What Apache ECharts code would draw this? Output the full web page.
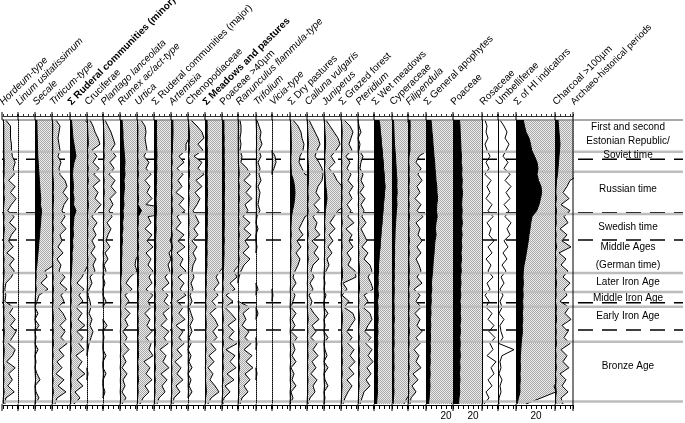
<!DOCTYPE html>
<html>
<head>
<meta charset="utf-8">
<script src="https://cdn.jsdelivr.net/npm/echarts@6.0.0/dist/echarts.min.js"></script>
<style>
html,body{margin:0;padding:0;background:#fff;}
#chart{width:685px;height:423px;}
</style>
</head>
<body>
<div id="chart"></div>
<script>
// ---------------- DATA (percent values, top = youngest sample) ----------------
const hordeum = [0.3,0.8,0.8,0.8,0.9, 0.9,1.0,1.3,1.1,1.2, 0.6,1.3,0.8,1.4,0.9, 0.5,1.2,0.7,1.4,0.9, 0.6,1.1,0.4,1.2,0.7, 1.2,0.9,0.3,0.2,0.3, 0.2,1.1,0.7,1.3,0.8, 1.4,1.0,0.6,1.3,1.0, 0.4,1.3,0.6,1.0,0.5, 1.2,0.3,0.2];
const linum = [0,0,0,0,0, 0,0,0,0,0, 0,0,0,0,0, 0,0,0,0,0, 0,0,0,0,0, 0,0,0,0,0, 0,0,0,0,0, 0,0,0,0,0, 0,0,0,0,0, 0,0,0];
const secale = [1.8,2.0,2.1,2.3,2.4, 2.6,2.8,3.2,3.6,4.0, 4.4,4.8,5.2,5.8,5.4, 6.6,6.0,5.6,5.0,4.6, 4.0,3.5,3.0,2.4,1.9, 1.0,1.2,0.6,1.3,0.4, 0.2,0,0.3,0,0.4, 0,0.1,0,0.3,0, 0.1,0,0.2,0.5,0, 0.1,0.4,0];
const triticum = [0.4,0.8,0.7,0.6,0.7, 0.8,0.6,0.9,0.7,0.8, 1.3,1.5,1.1,1.6,1.2, 1.0,1.3,0.9,1.4,0.8, 1.0,0.6,1.1,0.5,0.9, 0.7,1.3,0.8,1.5,0.9, 1.2,0.6,1.1,1.4,0.8, 1.3,0.9,1.5,0.7,1.2, 0.5,1.0,0.4,1.2,0.6, 1.4,0.5,0.3];
const ruderalMinor = [1.5,2.0,2.5,3.0,4.0, 5.0,6.0,4.0,3.0,2.5, 3.0,3.5,3.0,4.0,3.5, 6.0,4.0,3.5,3.0,3.5, 2.5,3.0,2.0,2.2,1.8, 1.5,1.2,0.7,1.4,0.9, 1.3,0.6,1.2,0.8,1.5, 0.7,1.3,0.9,1.4,0.6, 1.2,0.8,1.5,0.7,1.3, 0.5,1.0,0.4];
const cruciferae = [0.3,0.6,0.8,1.1,1.3, 0.5,1.0,0.6,1.2,0.7, 1.3,0.6,1.1,0.8,1.4, 0.9,0.5,1.0,0.6,0.9, 0.5,0.8,0.4,0.9,0.6, 0.8,0.3,0.5,0.2,0.1, 0.3,0.4,0.2,0.5,0.3, 0.6,0.4,0.2,0.1,0, 0,0,0.1,0,0, 0,0,0];
const plantago = [0.2,0.5,0.8,1.0,1.2, 0.8,1.3,0.7,1.1,0.6, 1.2,0.8,1.3,0.7,1.0, 0.6,0.9,0.4,0.8,0.5, 0.3,0.7,0.2,0.5,0.1, 0.3,0,0.2,0,0, 0.3,0,0,0,0.4, 0,0.1,0,0,0.3, 0,0,0.3,0,0, 0.2,0,0];
const rumex = [2.0,2.5,3.0,3.0,3.5, 4.0,4.5,5.0,4.5,5.0, 4.0,4.5,4.0,3.5,4.0, 3.0,3.5,2.5,3.0,2.0, 2.5,1.8,2.0,1.6,1.5, 1.7,1.0,0.6,1.2,0.5, 0.9,0.4,1.0,0.5,0.8, 0.3,0.7,0.4,0.9,0.3, 0.6,0.2,0.7,0.3,0.5, 0.2,0.6,0.2];
const urtica = [0.4,0.8,0.9,0.8,0.9, 1.0,0.7,1.2,0.9,1.4, 0.8,1.3,1.0,1.5,0.9, 4.5,1.1,1.4,0.8,1.5, 1.0,1.6,0.9,1.4,1.1, 1.6,1.2,1.5,0.9,1.6, 1.1,1.4,0.8,1.3,1.0, 1.5,0.9,1.4,1.2,1.6, 0.7,1.3,0.9,1.5,0.8, 1.2,0.6,0.3];
const ruderalMajor = [2.5,2.6,2.4,2.7,2.5, 2.8,3.0,2.6,2.9,2.4, 2.7,2.2,2.5,2.0,2.3, 2.6,2.1,1.9,2.2,1.8, 1.6,1.9,1.5,1.7,1.4, 1.6,1.1,1.5,0.8,1.4, 1.0,1.6,0.9,1.3,0.7, 1.5,1.0,1.4,0.6,1.2, 0.9,1.5,0.7,1.3,0.8, 1.1,0.5,0.3];
const artemisia = [1.8,1.9,2.0,1.8,1.5, 1.5,0.8,1.3,0.6,1.2, 0.7,1.1,0.5,1.3,0.8, 1.4,0.6,1.0,0.5,1.3, 0.7,1.4,0.6,1.2,0.9, 1.5,0.7,1.3,0.9,1.5, 0.6,1.2,0.8,1.4,0.5, 1.2,0.8,1.3,0.6,1.1, 0.4,1.0,0.6,1.2,0.5, 0.9,0.3,0.2];
const chenopodiaceae = [0.3,0.9,1.4,1.6,1.0, 1.5,0.6,1.4,1.0,1.6, 0.8,1.4,0.7,1.2,0.9, 0.5,0.8,1.1,0.6,1.0, 0.4,0.9,0.5,0.8,0.5, 0.4,0.6,0.3,0.5,0.2, 0.4,0.1,0.3,0.5,0.2, 0.4,0.1,0.3,0,0.3, 0.1,0.4,0,0.3,0.1, 0.4,0,0];
const meadows = [2.0,2.2,2.1,2.3,2.0, 2.4,2.2,2.5,2.3,2.1, 2.4,2.2,2.6,2.3,2.1, 2.5,2.2,2.4,2.0,2.3, 2.1,1.9,2.2,1.8,2.0, 1.5,1.1,1.4,0.9,1.3, 0.7,1.2,0.5,1.0,1.3, 0.8,1.2,0.6,1.1,0.4, 0.9,0.3,0.8,0.5,1.0, 1.4,0.6,0.3];
const poaceae40 = [1.8,2.0,1.9,2.2,2.0, 2.3,2.1,2.4,2.2,2.5, 2.3,2.6,2.4,2.2,2.5, 2.3,2.1,2.4,2.2,2.0, 2.3,1.9,2.1,1.8,1.7, 1.2,1.5,0.8,1.3,0.4, 1.1,0.3,0.9,1.4,0.6, 1.2,0.7,1.5,0.4,1.3, 0.8,1.4,0.5,1.2,0.3, 0.8,0.2,0.1];
const ranunculus = [0.2,0.3,0.3,0.2,0.3, 0.2,0.4,0.3,0.9,1.2, 0.6,1.3,0.8,1.4,0.7, 1.0,0.5,1.2,0.6,1.3, 0.7,1.1,0.5,1.2,0.6, 0.3,0.1,0,0,0, 0,1.2,0.5,0.8,0.4, 1.1,0.7,1.3,0.6,1.4, 0.8,1.5,0.7,1.2,0.6, 1.0,0.4,0.2];
const trifolium = [0.1,0.3,0.5,0.4,0.6, 0.3,0.5,0.2,0.4,0.3, 0.5,0.2,0.4,0.3,0.2, 0.4,0.1,0,0.2,0, 0,0.1,0,0,0, 0,0,0,0.2,0, 0,0,0.2,0,0, 0,0,0.1,0,0, 0,0,0.1,0,0, 0,0,0];
const vicia = [0,0,0,0,0, 0,0.3,0.4,0.2,0, 0,0,0,0,0, 0,0,0,0,0, 0,0,0,0,0, 0,0,0,0,0.1, 0,0,0,0,0, 0,0,0,0,0, 0,0,0,0,0, 0,0,0];
const dryPastures = [0.3,0.8,1.1,1.2,1.4, 1.3,1.0,0.9,1.2,1.5, 3.5,4.5,5.0,4.6,3.8, 2.5,1.5,1.2,0.9,1.3, 0.7,1.1,0.6,1.0,0.8, 0.5,0.3,0.6,0.2,0.5, 0.3,0.1,0.6,0.2,0.5, 0.1,0.7,0.3,0.5,0.2, 0.6,0.1,0.4,0.2,0.6, 0.1,0.3,0];
const calluna = [0.2,0.5,0.8,1.1,1.3, 1.0,0.8,1.2,1.5,1.6, 1.5,1.1,0.9,1.3,0.7, 1.2,0.6,1.0,0.8,1.3, 0.5,1.1,0.7,1.2,0.6, 0.4,0.7,0.3,0.6,0.2, 0.5,0.3,0.7,1.2,0.5, 0.9,0.4,1.0,0.6,1.1, 0.5,0.9,0.4,1.0,0.6, 0.8,0.3,0.1];
const juniperus = [0.2,0.6,1.0,1.4,1.6, 1.2,0.7,1.1,0.5,1.0, 1.3,1.8,2.6,3.0,2.2, 1.4,1.0,0.6,1.1,0.5, 0.9,0.4,0.8,0.3,0.5, 0.2,0,0.1,0,0.2, 0,0,0.4,0,0.1, 0,0.4,0,0.1,0.3, 0,0.4,0,0.1,0.4, 0,0.1,0];
const grazedForest = [0.3,0.9,1.2,1.0,0.8, 1.1,0.5,0.9,0.6,1.0, 0.7,1.2,0.8,1.1,0.6, 1.0,0.7,1.3,0.5,1.1, 0.8,1.2,0.6,1.0,0.7, 1.4,1.5,0.2,0.6,0.1, 0.8,0.3,1.2,1.4,1.0, 0.6,1.1,0.7,1.3,0.9, 1.4,0.8,1.3,0.6,1.1, 0.7,0.4,0.2];
const pteridium = [0,0.1,0.3,0,0.2, 0.1,0.5,0.3,0.2,0.5, 0.3,0.6,0.2,0.7,0.3, 0.6,0.4,0.8,0.3,0.6, 0.9,0.4,1.0,0.6,1.2, 1.4,1.0,1.3,1.5,0.6, 1.0,0.5,1.2,1.4,1.0, 0.7,1.3,0.8,1.4,1.0, 1.5,0.9,1.3,0.8,1.2, 0.6,0.4,0.2];
const wetMeadows = [5.0,6.0,6.4,7.2,7.5, 8.3,8.6,9.4,9.5,10.3, 10.4,11.2,10.5,10.2,9.4, 9.2,8.4,8.2,7.4,7.1, 6.4,6.2,5.4,5.1,4.5, 4.6,4.0,4.3,3.8,4.5, 3.5,4.1,3.8,4.2,3.6, 4.0,3.5,3.9,3.4,3.7, 3.3,3.6,3.2,3.6,3.3, 3.5,3.0,2.5];
const cyperaceae = [1.5,1.8,2.0,2.2,2.5, 3.0,3.5,3.8,4.2,4.5, 5.0,4.8,5.2,4.6,5.0, 4.4,4.0,3.6,3.2,3.0, 2.8,2.5,2.7,2.3,2.5, 2.2,2.4,2.0,2.3,2.1, 1.9,2.2,2.0,2.4,1.8, 2.1,1.9,2.2,1.7,2.0, 1.8,2.1,1.6,1.9,1.7, 2.0,1.5,1.2];
const filipendula = [2.0,2.2,2.0,2.1,1.9, 2.0,1.1,0.8,1.3,1.0, 1.4,0.9,1.2,0.7,1.3, 0.9,1.5,0.8,1.2,1.0, 1.4,0.9,1.3,0.8,1.1, 1.3,0.9,1.4,0.6,1.2, 0.8,1.3,0.7,1.2,0.9, 1.4,0.8,1.2,0.6,1.1, 0.8,1.3,0.5,1.0,0.4, 0.8,0.3,0.2];
const generalApophytes = [5.0,5.6,6.0,6.7,7.0, 7.6,8.0,8.7,9.0,9.6, 10.0,10.8,11.0,11.6,10.8, 10.5,11.2,10.0,9.4,10.1, 9.0,8.4,8.1,7.4,7.0, 6.6,6.0,5.4,5.8,5.0, 5.3,4.7,5.0,4.4,4.8, 4.3,4.6,4.1,4.5,4.0, 4.3,3.8,4.2,3.7,4.0, 3.6,3.2,2.5];
const poaceae = [6.5,7.0,7.2,7.5,7.8, 8.0,8.5,8.2,9.0,8.6, 9.3,8.8,9.5,9.0,8.6, 9.2,8.7,9.4,8.5,9.1, 8.3,8.8,8.0,8.6,7.8, 8.3,7.5,8.0,7.3,7.8, 7.0,7.6,7.2,7.8,7.0, 7.5,6.8,7.3,6.9,7.4, 6.7,7.1,6.5,7.0,6.4, 6.8,6.0,5.5];
const rosaceae = [0.3,0.5,0.4,0.6,0.3, 0.5,0.8,0.4,0.7,0.3, 0.9,0.5,0.8,0.4,1.0, 0.6,1.1,0.5,0.9,0.7, 1.2,0.6,1.0,0.4,0.9, 0.6,1.1,0.5,0.8,0.3, 0.7,0.4,1.0,0.6,1.2, 0.7,1.3,0.8,1.1,0.5, 1.4,0.9,1.2,0.6,1.0, 0.4,0.7,0.2];
const umbelliferae = [0.2,0.6,0.9,0.7,1.1, 0.8,0.5,1.0,0.6,1.2, 0.7,1.3,0.8,1.2,0.6, 1.1,0.7,1.3,0.9,1.2, 0.6,1.0,0.5,0.9,0.4, 0.8,0.3,0.6,0.2,0.5, 0.2,0.4,0.1,0.6,0.2, 0.3,0.5,0.1,1.6,0.4, 0.2,0.3,0.1,0.4,0.2, 0.3,0.1,0.1];
const hiIndicators = [7.3,8.5,10,13,14.5, 15.7,18.5,21,22,21, 22.5,25,25.7,24.5,23, 20.7,16,14.8,14,13, 12.3,11.3,10.3,9.3,8, 7.3,7,7.4,6.8,7.2, 6.6,7,6.4,6.8,6.2, 6.5,5.8,5.2,4.8,4.4, 4.2,4.5,4.0,4.3,3.8, 4.0,2.5,1.0];
const charcoal = [3.0,3.5,4.0,4.5,5.0, 4.5,4.0,3.5,3.0,2.5, 1.5,1.2,0.8,1.4,0.6, 1.5,0.9,1.3,0.5,1.2, 0.7,1.6,0.4,1.1,0.6, 1.3,0.8,1.5,0.9,1.2, 0.5,1.4,1.0,1.6,0.7, 1.3,0.9,1.5,0.6,1.2, 0.8,1.4,0.5,1.1,0.7, 1.3,0.6,0.8];

const taxa = ['Hordeum-type','Linum usitatissimum','Secale','Triticum-type','\u03A3 Ruderal communities (minor)','Cruciferae','Plantago lanceolata','Rumex ac/act-type','Urtica','\u03A3 Ruderal communities (major)','Artemisia','Chenopodiaceae','\u03A3 Meadows and pastures','Poaceae >40\u00B5m','Ranunculus flammula-type','Trifolium','Vicia-type','\u03A3 Dry pastures','Calluna vulgaris','Juniperus','\u03A3 Grazed forest','Pteridium','\u03A3 Wet meadows','Cyperaceae','Filipendula','\u03A3 General apophytes','Poaceae','Rosaceae','Umbelliferae','\u03A3 of HI indicators','Charcoal >100\u00B5m'];
const seriesValues = [hordeum,linum,secale,triticum,ruderalMinor,cruciferae,plantago,rumex,urtica,ruderalMajor,artemisia,chenopodiaceae,meadows,poaceae40,ranunculus,trifolium,vicia,dryPastures,calluna,juniperus,grazedForest,pteridium,wetMeadows,cyperaceae,filipendula,generalApophytes,poaceae,rosaceae,umbelliferae,hiIndicators,charcoal];
const scaleLabelValues = [20];

const periodsTitle = 'Archaeo-historical periods';
const periodNames = ['First and second','Estonian Republic/','Soviet time','Russian time','Swedish time','Middle Ages','(German time)','Later Iron Age','Middle Iron Age','Early Iron Age','Bronze Age'];
const periodLabelPos = [1.16,3.59,5.9,11.47,17.82,21.07,24.0,26.93,29.5,32.55,40.71];   // in sample units
const periodBands = [0,5.25,8.55,15.56,25.32,28.46,30.9,36.69,46.6];                      // grey boundaries
const periodDashes = [6.5,15.34,19.86,30.24,34.75];                                       // dashed boundaries

// ---------------- LAYOUT / STYLE ----------------
const colEdges = [2,18,35,52,70,87,103,120,137,154,171,188,205,222,238,256,272,290,307,324,341,358,374,392,408,426,453,482,498,516,555,573];
const periodsRight = 683;
const labelStyle = ['i','i','i','i','b','n','i','i','i','n','i','n','b','n','i','i','i','n','i','i','n','i','n','n','i','n','n','n','n','n','n'];
const kinds = ['full','none','full','full','full','full','full','full','full','full','full','full','full','full','full','full','full','full','full','full','full','full','full','full','full','full','full','line','line','full','full'];
const EXAG = 10;
const FONT = '"Liberation Sans", Arial, Helvetica, sans-serif';
const TOP = 120, HEIGHT = 284;

const samples = hordeum.map((_, i) => 'S' + (i + 1));

// stipple pattern
const pc = document.createElement('canvas');
pc.width = 2; pc.height = 2;
const g = pc.getContext('2d');
g.fillStyle = '#ececec'; g.fillRect(0, 0, 2, 2);
g.fillStyle = '#a8a8a8'; g.fillRect(0, 0, 1, 1); g.fillRect(1, 1, 1, 1);

const gapZeros = arr => arr.map((v, j) =>
  (v === 0 && (j === 0 || arr[j - 1] === 0) && (j === arr.length - 1 || arr[j + 1] === 0)) ? '-' : v);

const chart = echarts.init(document.getElementById('chart'), null, {renderer: 'canvas'});

const grids = [], xAxes = [], yAxes = [], series = [];
seriesValues.forEach((vals, i) => {
  const L = colEdges[i], W = colEdges[i + 1] - colEdges[i];
  grids.push({left: L, top: TOP, width: W, height: HEIGHT});
  xAxes.push({
    gridIndex: i, type: 'value', min: 0, max: W, interval: 5, position: 'bottom', offset: 1,
    axisLine: {show: true, onZero: false, lineStyle: {color: '#000', width: 1}},
    axisTick: {show: true, length: 4, lineStyle: {color: '#000', width: 1}},
    axisLabel: {show: true, margin: 6, fontSize: 10, color: '#000', fontFamily: FONT,
      formatter: v => scaleLabelValues.includes(v) ? String(v) : ''},
    splitLine: {show: false}
  });
  xAxes.push({
    gridIndex: i, type: 'value', min: 0, max: W, interval: 5, position: 'top', offset: 4,
    axisLine: {show: true, onZero: false, lineStyle: {color: '#333', width: 1}},
    axisTick: {show: true, length: 2, lineStyle: {color: '#333', width: 1}},
    axisLabel: {show: false}, splitLine: {show: false}
  });
  yAxes.push({
    gridIndex: i, type: 'category', data: samples, inverse: true, boundaryGap: false, z: 6,
    axisLine: {show: true, lineStyle: {color: '#000', width: 1, type: kinds[i] === 'line' ? 'solid' : 'dotted'}},
    axisTick: {show: false}, axisLabel: {show: false}, splitLine: {show: false}
  });
  if (kinds[i] === 'none') return;
  const ex = {
    type: 'line', xAxisIndex: 2 * i, yAxisIndex: i, data: gapZeros(vals.map(v => v * EXAG)),
    symbol: 'none', silent: true, animation: false, z: 2, clip: true,
    lineStyle: {color: '#000', width: 1}
  };
  if (kinds[i] === 'full') ex.areaStyle = {color: {image: pc, repeat: 'repeat'}, opacity: 1};
  series.push(ex);
  if (kinds[i] === 'full') {
    series.push({
      type: 'line', xAxisIndex: 2 * i, yAxisIndex: i, data: gapZeros(vals),
      symbol: 'none', silent: true, animation: false, z: 4, clip: true,
      lineStyle: {color: '#000', width: 1}, areaStyle: {color: '#000', opacity: 1}
    });
  }
});

chart.setOption({animation: false, grid: grids, xAxis: xAxes, yAxis: yAxes, series: series});

const yAt = d => {
  const i0 = Math.max(0, Math.min(samples.length - 2, Math.floor(d)));
  const p0 = chart.convertToPixel({yAxisIndex: 0}, samples[i0]);
  const p1 = chart.convertToPixel({yAxisIndex: 0}, samples[i0 + 1]);
  return p0 + (d - i0) * (p1 - p0);
};

const X0 = colEdges[0], XP = colEdges[colEdges.length - 1];
const graphics = [];
// column titles
taxa.forEach((t, i) => {
  graphics.push({type: 'text', x: colEdges[i] + 3, y: 107, rotation: Math.PI / 4, z: 10, silent: true,
    style: {text: t, fontSize: 10, fontFamily: FONT, fontStyle: labelStyle[i] === 'i' ? 'italic' : 'normal',
      fontWeight: labelStyle[i] === 'b' ? 'bold' : 'normal', fill: '#000', textAlign: 'left', textVerticalAlign: 'bottom'}});
});
graphics.push({type: 'text', x: XP + 3, y: 107, rotation: Math.PI / 4, z: 10, silent: true,
  style: {text: periodsTitle, fontSize: 9.5, fontFamily: FONT, fill: '#000', textAlign: 'left', textVerticalAlign: 'bottom'}});
// column boundary tick extensions
colEdges.forEach(x => {
  graphics.push({type: 'line', z: 10, silent: true, shape: {x1: x, y1: 112, x2: x, y2: TOP}, style: {stroke: '#000', lineWidth: 1}});
  graphics.push({type: 'line', z: 10, silent: true, shape: {x1: x, y1: TOP + HEIGHT, x2: x, y2: TOP + HEIGHT + 7}, style: {stroke: '#000', lineWidth: 1}});
});
graphics.push({type: 'line', z: 10, silent: true, shape: {x1: XP, y1: TOP, x2: XP, y2: TOP + HEIGHT}, style: {stroke: '#000', lineWidth: 1}});
// grey period boundaries
periodBands.forEach((d, k) => {
  const y = yAt(d);
  graphics.push({type: 'line', z: 3, silent: true, shape: {x1: X0, y1: y, x2: periodsRight, y2: y},
    style: {stroke: k === 0 ? '#8c8c8c' : '#bdbdbd', lineWidth: k === 0 ? 1.5 : 2.5}});
});
// dashed boundaries
periodDashes.forEach(d => {
  const y = yAt(d);
  graphics.push({type: 'line', z: 1, silent: true, shape: {x1: X0, y1: y, x2: periodsRight, y2: y},
    style: {stroke: '#000', lineWidth: 1.4, lineDash: [15, 9]}});
});
// period labels
periodNames.forEach((t, k) => {
  graphics.push({type: 'text', x: (XP + periodsRight) / 2, y: yAt(periodLabelPos[k]), z: 10, silent: true,
    style: {text: t, fontSize: 10, fontFamily: FONT, fill: '#000', textAlign: 'center', textVerticalAlign: 'middle'}});
});

chart.setOption({graphic: {elements: graphics}});
</script>
</body>
</html>
